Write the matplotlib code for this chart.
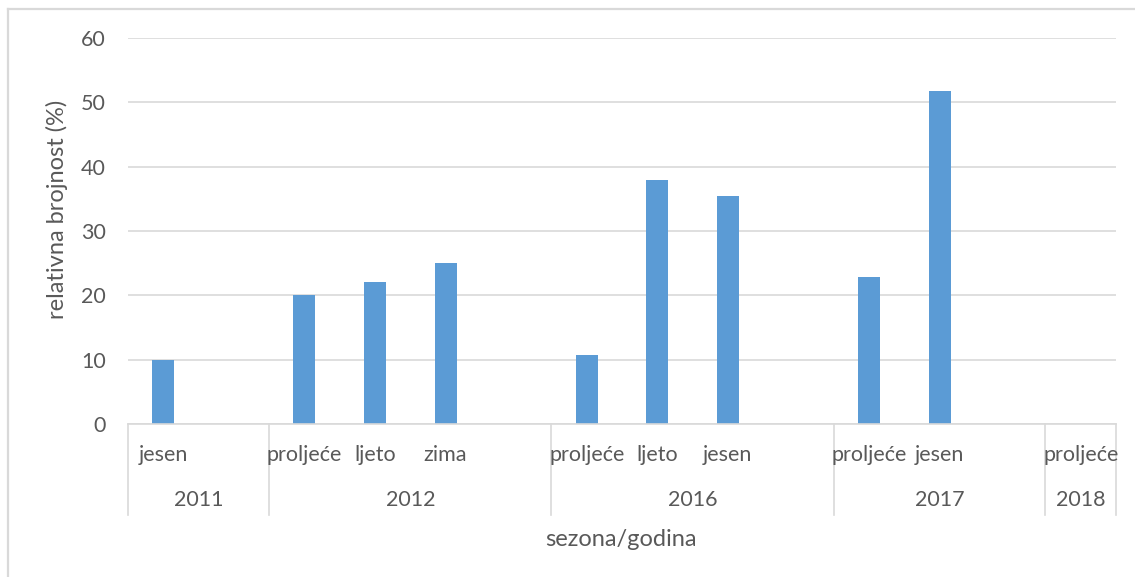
import matplotlib
matplotlib.use("Agg")
import matplotlib.pyplot as plt
import matplotlib.transforms as mtransforms
from matplotlib.lines import Line2D
import numpy as np

# ---- data ----
seasons = ['jesen', '', 'proljeće', 'ljeto', 'zima', '',
           'proljeće', 'ljeto', 'jesen', '',
           'proljeće', 'jesen', '', 'proljeće']
values = [10, np.nan, 20, 22, 25, np.nan,
          10.7, 38, 35.4, np.nan,
          22.9, 51.8, np.nan, np.nan]
years = ['2011', '2012', '2016', '2017', '2018']
year_slots = [2, 4, 4, 3, 1]
y_ticks = [0, 10, 20, 30, 40, 50, 60]

plt.rcParams['font.family'] = ['Lato', 'DejaVu Sans']
TXT = '#595959'
GRID = '#d9d9d9'
BAR = '#5b9bd5'
FS = 15.5
FT = 17

W, H = 1135, 577
fig = plt.figure(figsize=(W / 100, H / 100), dpi=100)
fig.patch.set_facecolor('white')

left, right, top, bottom = 128, 1116, 38, 424
ax = fig.add_axes([left / W, 1 - bottom / H, (right - left) / W, (bottom - top) / H])

n = len(seasons)
x = np.arange(n) + 0.5
ax.bar(x, values, width=0.31, color=BAR, zorder=3)
ax.set_xlim(0, n)
ax.set_ylim(0, 60)
ax.set_yticks(y_ticks)
ax.set_yticklabels([str(t) for t in y_ticks], fontsize=FS, color=TXT)
ax.tick_params(axis='y', length=0, pad=16)
ax.set_xticks([])
ax.grid(axis='y', color=GRID, linewidth=1.2, zorder=0)
for s in ['top', 'right', 'left']:
    ax.spines[s].set_visible(False)
ax.spines['bottom'].set_color(GRID)
ax.spines['bottom'].set_linewidth(1.2)
ax.spines['bottom'].set_zorder(4)

trans = mtransforms.blended_transform_factory(ax.transData, ax.transAxes)
px = 1.0 / (bottom - top)  # axes fraction per pixel
# season labels
for xi, s in zip(x, seasons):
    if s:
        ax.text(xi, -(455 - bottom) * px, s, transform=trans, ha='center', va='center',
                fontsize=FS, color=TXT)
# year labels and separators
edges = np.concatenate([[0], np.cumsum(year_slots)])
for i, yl in enumerate(years):
    c = (edges[i] + edges[i + 1]) / 2
    ax.text(c, -(500 - bottom) * px, yl, transform=trans, ha='center', va='center',
            fontsize=FS, color=TXT)
for e in edges:
    ax.plot([e, e], [0, -(515 - bottom) * px], transform=trans, color=GRID,
            linewidth=1.2, clip_on=False)

fig.text(57 / W, 1 - 209 / H, 'relativna brojnost (%)', rotation=90,
         ha='center', va='center', fontsize=FT, color=TXT)
fig.text(621 / W, 1 - 539 / H, 'sezona/godina', ha='center', va='center',
         fontsize=FT, color=TXT)

# chart-area frame (only top and left edges visible in the crop)
fx, fy = 7.5 / W, 1 - 9 / H
fig.add_artist(Line2D([fx, 1.0], [fy, fy], transform=fig.transFigure,
                      color=GRID, linewidth=1.6))
fig.add_artist(Line2D([fx, fx], [0.0, fy], transform=fig.transFigure,
                      color=GRID, linewidth=1.6))

fig.savefig('out.png', dpi=100, facecolor='white')
